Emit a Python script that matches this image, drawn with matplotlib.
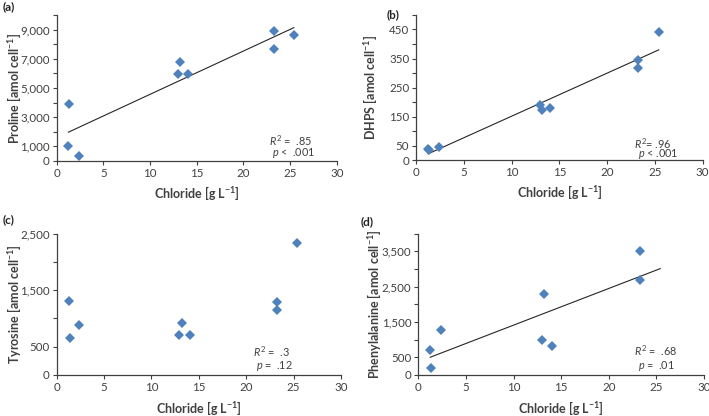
import matplotlib
matplotlib.use('Agg')
import matplotlib.pyplot as plt
import numpy as np
from matplotlib.ticker import MultipleLocator, FuncFormatter

plt.rcParams['font.family'] = ['Lato', 'DejaVu Sans']
plt.rcParams['mathtext.fontset'] = 'custom'
plt.rcParams['mathtext.rm'] = 'Lato'
plt.rcParams['mathtext.it'] = 'Lato:italic'
plt.rcParams['mathtext.bf'] = 'Lato:bold'
plt.rcParams['text.color'] = '#404040'
plt.rcParams['xtick.color'] = '#404040'
plt.rcParams['ytick.color'] = '#404040'
plt.rcParams['axes.labelcolor'] = '#404040'

# chloride of each sample [g/L]
chloride = np.array([1.25, 1.35, 2.4, 12.95, 13.2, 14.05, 23.25, 23.25, 25.4])

# compound concentrations [amol/cell], same sample order
proline = np.array([1000, 3880, 350, 5970, 6800, 5960, 8870, 7670, 8630])
dhps = np.array([40, 34, 45, 189, 173, 178, 346, 318, 442])
tyrosine = np.array([1300, 650, 880, 700, 910, 700, 1290, 1150, 2340])
phenylalanine = np.array([700, 200, 1270, 1000, 2280, 820, 3520, 2700, np.nan])

panels = ['(a)', '(b)', '(c)', '(d)']
unit = r' [amol cell$^{\mathbf{-1}}$]'
ylabels = ['Proline' + unit, 'DHPS' + unit, 'Tyrosine' + unit, 'Phenylalanine' + unit]
xlabel = r'Chloride [g L$^{\mathbf{-1}}$]'
ymax = [10000, 500, 2500, 4000]
ystep = [1000, 50, 500, 500]
ylabeled = [[0, 1000, 3000, 5000, 7000, 9000],
            [0, 50, 150, 250, 350, 450],
            [0, 500, 1500, 2500],
            [0, 500, 1500, 2500, 3500]]
r2_text = ['$R^2$ =  .85', '$R^2$= .96', '$R^2$ =  .3', '$R^2$ =  .68']
p_text = ['$p$ <  .001', '$p$ < .001', '$p$ =  .12', '$p$ =  .01']
show_fit = [True, True, False, True]
series = [proline, dhps, tyrosine, phenylalanine]

fig = plt.figure(figsize=(7.09, 4.16), dpi=100)
rects = [[0.080, 0.613, 0.395, 0.351],
         [0.587, 0.615, 0.404, 0.349],
         [0.080, 0.099, 0.401, 0.339],
         [0.590, 0.099, 0.403, 0.339]]
label_pos = [(0.004, 0.983), (0.546, 0.965), (0.004, 0.471), (0.508, 0.468)]
ylab_x = [-0.154, -0.162, -0.151, -0.156]
xlab_y = [-0.22, -0.22, -0.234, -0.234]
txt_pos = [(0.757, 0.14, 0.768, 0.055), (0.76, 0.115, 0.773, 0.045),
           (0.69, 0.166, 0.70, 0.064), (0.756, 0.172, 0.77, 0.064)]

for i in range(4):
    ax = fig.add_axes(rects[i])
    y = series[i]
    ok = ~np.isnan(y)
    ax.plot(chloride[ok], y[ok], 'D', color='#4f81bd', markersize=4.8,
            markeredgewidth=0, zorder=3)
    if show_fit[i]:
        k, b = np.polyfit(chloride[ok], y[ok], 1)
        xl = np.array([chloride.min(), chloride.max()])
        ax.plot(xl, k * xl + b, color='#262626', linewidth=0.8, zorder=2)
    ax.set_xlim(0, 30)
    ax.set_ylim(0, ymax[i])
    ax.xaxis.set_major_locator(MultipleLocator(5))
    ax.yaxis.set_major_locator(MultipleLocator(ystep[i]))
    labs = ylabeled[i]
    ax.yaxis.set_major_formatter(FuncFormatter(
        lambda v, pos, labs=labs: f'{int(round(v)):,}' if int(round(v)) in labs else ''))
    for s in ['top', 'right']:
        ax.spines[s].set_visible(False)
    for s in ['left', 'bottom']:
        ax.spines[s].set_color('#404040')
        ax.spines[s].set_linewidth(0.9)
    ax.tick_params(axis='both', direction='out', length=3, width=0.8,
                   labelsize=8.3, pad=2)
    ax.set_xlabel(xlabel, fontsize=9, fontweight='bold')
    ax.set_ylabel(ylabels[i], fontsize=9, fontweight='bold')
    ax.xaxis.label.set_va('center')
    ax.yaxis.label.set_va('center')
    ax.yaxis.set_label_coords(ylab_x[i], 0.5)
    ax.xaxis.set_label_coords(0.5, xlab_y[i])
    tx1, ty1, tx2, ty2 = txt_pos[i]
    ax.text(tx1, ty1, r2_text[i], transform=ax.transAxes, fontsize=7.8,
            va='center', ha='left')
    ax.text(tx2, ty2, p_text[i], transform=ax.transAxes, fontsize=7.8,
            va='center', ha='left')
    fig.text(label_pos[i][0], label_pos[i][1], panels[i], fontsize=8.5,
             fontweight='bold', va='center', ha='left', color='#222222')

fig.savefig('out.png', dpi=100)
